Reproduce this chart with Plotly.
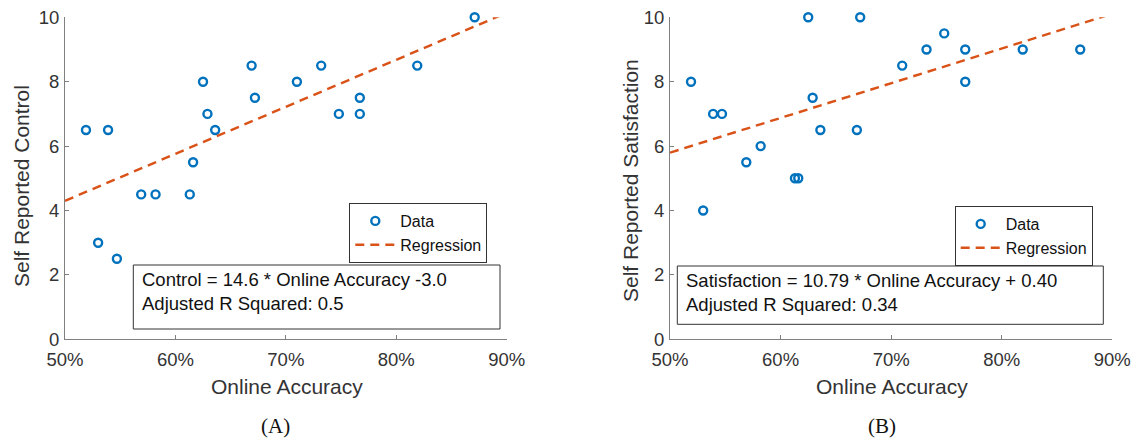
import plotly.graph_objects as go

# ---------------- data ----------------
online_accuracy = [0.519, 0.530, 0.539, 0.547, 0.569, 0.582, 0.613, 0.616, 0.625, 0.629,
                   0.636, 0.669, 0.672, 0.710, 0.732, 0.748, 0.767, 0.767, 0.819, 0.871]
control = [6.5, 3.0, 6.5, 2.5, 4.5, 4.5, 4.5, 5.5, 8.0, 7.0,
           6.5, 8.5, 7.5, 8.0, 8.5, 7.0, 7.5, 7.0, 8.5, 10.0]
satisfaction = [8.0, 4.0, 7.0, 7.0, 5.5, 6.0, 5.0, 5.0, 10.0, 7.5,
                6.5, 6.5, 10.0, 8.5, 9.0, 9.5, 9.0, 8.0, 9.0, 9.0]
reg_x = [0.5, 0.9]
reg_control = [4.30, 10.14]
reg_satisfaction = [5.795, 10.111]
x_ticks = [0.5, 0.6, 0.7, 0.8, 0.9]
x_tick_labels = ["50%", "60%", "70%", "80%", "90%"]
y_ticks = [0, 2, 4, 6, 8, 10]

W, H = 1138, 441
def px(x):
    return x / W
def py(y):
    return 1 - y / H

BLUE = "#0072BD"
ORANGE = "#D95319"
AXC = "#808080"
TXT = "#333333"
FONT = "Liberation Sans, Arial, Helvetica, sans-serif"

fig = go.Figure()

panels = [
    dict(xa="x", ya="y", yvals=control, reg=reg_control, legend="legend"),
    dict(xa="x2", ya="y2", yvals=satisfaction, reg=reg_satisfaction, legend="legend2"),
]

for p in panels:
    fig.add_trace(go.Scatter(
        x=online_accuracy, y=p["yvals"], mode="markers", name="Data",
        xaxis=p["xa"], yaxis=p["ya"], legend=p["legend"], cliponaxis=False,
        marker=dict(symbol="circle-open", size=8, color=BLUE, line=dict(width=2.4, color=BLUE)),
    ))
    fig.add_trace(go.Scatter(
        x=reg_x, y=p["reg"], mode="lines", name="Regression",
        xaxis=p["xa"], yaxis=p["ya"], legend=p["legend"],
        line=dict(color=ORANGE, width=2.4, dash="9px,6px"),
    ))

ydom = [py(339.3), py(17.3)]
axis_common = dict(showline=True, linecolor=AXC, linewidth=1, ticks="inside", ticklen=4,
                   tickcolor=AXC, showgrid=False, zeroline=False, mirror=False,
                   tickfont=dict(family=FONT, size=18.5, color=TXT), automargin=False)

legend_common = dict(xanchor="left", yanchor="top", bgcolor="white",
                     bordercolor="#333333", borderwidth=1,
                     font=dict(family=FONT, size=16, color="#111111"), itemwidth=40,
                     tracegroupgap=0)

fig.update_layout(
    width=W, height=H, margin=dict(l=0, r=0, t=0, b=0),
    paper_bgcolor="white", plot_bgcolor="white", showlegend=True,
    xaxis=dict(domain=[px(65), px(506.7)], range=[0.5, 0.9], tickvals=x_ticks,
               ticktext=x_tick_labels, anchor="y", ticklabelstandoff=3, **axis_common),
    yaxis=dict(domain=ydom, range=[0, 10], tickvals=y_ticks, anchor="x",
               ticklabelstandoff=1, **axis_common),
    xaxis2=dict(domain=[px(670), px(1112.3)], range=[0.5, 0.9], tickvals=x_ticks,
                ticktext=x_tick_labels, anchor="y2", ticklabelstandoff=3, **axis_common),
    yaxis2=dict(domain=ydom, range=[0, 10], tickvals=y_ticks, anchor="x2",
                ticklabelstandoff=1, **axis_common),
    legend=dict(x=px(349.3), y=py(203), **legend_common),
    legend2=dict(x=px(954.7), y=py(206), **legend_common),
)

# text boxes (equation boxes)
boxes = [
    dict(x0=133.3, x1=500, y0=265, y1=329,
         text="Control = 14.6 * Online Accuracy -3.0<br>Adjusted R Squared: 0.5"),
    dict(x0=677.3, x1=1103.3, y0=266, y1=324.3,
         text="Satisfaction = 10.79 * Online Accuracy + 0.40<br>Adjusted R Squared: 0.34"),
]
for b in boxes:
    fig.add_shape(type="rect", xref="paper", yref="paper",
                  x0=px(b["x0"]), x1=px(b["x1"]), y0=py(b["y1"]), y1=py(b["y0"]),
                  line=dict(color="#333333", width=1), fillcolor="white", layer="above")
    fig.add_annotation(xref="paper", yref="paper", x=px(b["x0"] + 7), y=py(b["y0"] + 2),
                       xanchor="left", yanchor="top", align="left", showarrow=False,
                       text=b["text"], font=dict(family=FONT, size=18.5, color="#111111"))

# axis titles
for cx in (287, 892):
    fig.add_annotation(xref="paper", yref="paper", x=px(cx), y=py(386),
                       xanchor="center", yanchor="middle", showarrow=False,
                       text="Online Accuracy", font=dict(family=FONT, size=21, color=TXT))
fig.add_annotation(xref="paper", yref="paper", x=px(21), y=py(186), textangle=-90,
                   xanchor="center", yanchor="middle", showarrow=False,
                   text="Self Reported Control", font=dict(family=FONT, size=21, color=TXT))
fig.add_annotation(xref="paper", yref="paper", x=px(631), y=py(181), textangle=-90,
                   xanchor="center", yanchor="middle", showarrow=False,
                   text="Self Reported Satisfaction", font=dict(family=FONT, size=21, color=TXT))

# captions
for cx, t in ((275, "(A)"), (882, "(B)")):
    fig.add_annotation(xref="paper", yref="paper", x=px(cx), y=py(426),
                       xanchor="center", yanchor="middle", showarrow=False,
                       text=t, font=dict(family="Liberation Serif, Times New Roman, serif",
                                         size=21, color="#111111"))

fig.write_html("out.html")
